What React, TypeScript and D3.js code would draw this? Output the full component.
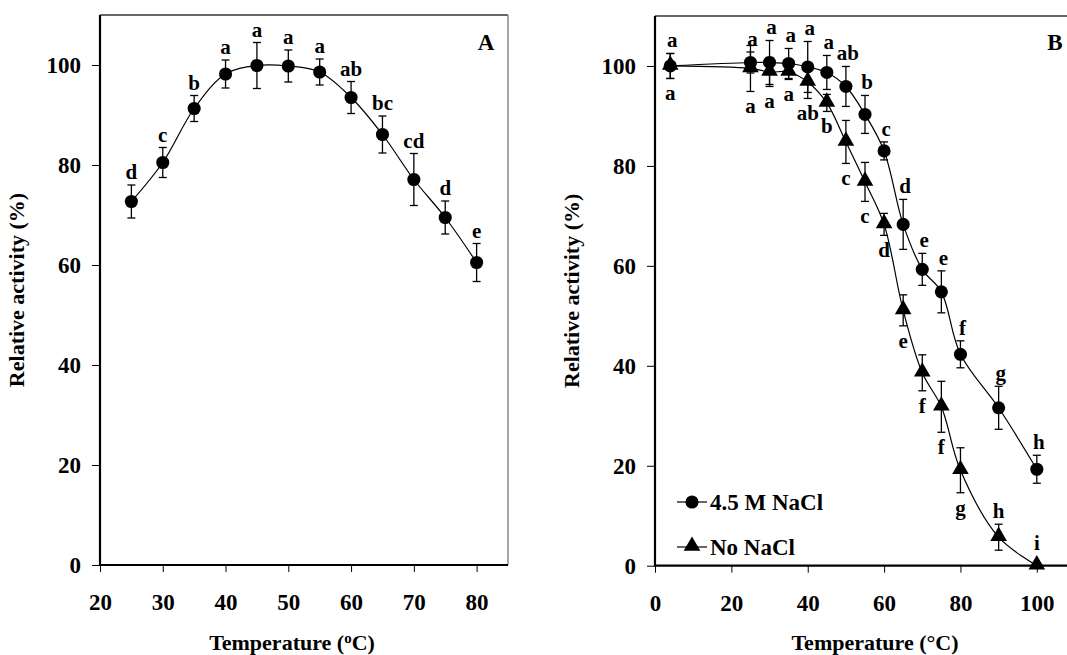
import React, { useEffect, useRef } from "react";
import * as d3 from "d3";

// panel A: activity vs temperature
const tempA = [25, 30, 35, 40, 45, 50, 55, 60, 65, 70, 75, 80];
const activityA = [72.7, 80.5, 91.3, 98.2, 99.9, 99.8, 98.6, 93.5, 86.1, 77.1, 69.5, 60.5];
const errorA = [3.3, 3.0, 2.6, 2.8, 4.6, 3.2, 2.6, 3.2, 3.7, 5.2, 3.3, 3.8];
const lettersA = ["d", "c", "b", "a", "a", "a", "a", "ab", "bc", "cd", "d", "e"];

// panel B: thermostability with / without salt
const tempB = [4, 25, 30, 35, 40, 45, 50, 55, 60, 65, 70, 75, 80, 90, 100];
const saltB = [100, 100.7, 100.7, 100.5, 99.8, 98.7, 95.9, 90.3, 83, 68.3, 59.3, 54.8, 42.3, 31.6, 19.3];
const saltErrB = [2.5, 2.1, 4.4, 3.0, 5.1, 3.4, 4.0, 3.8, 1.8, 5.0, 3.2, 4.2, 2.7, 4.3, 2.8];
const saltLettersB = ["a", "a", "a", "a", "a", "a", "ab", "b", "c", "d", "e", "e", "f", "g", "h"];
const noSaltB = [100, 99.5, 98.8, 98.8, 96.8, 92.6, 84.8, 76.8, 68.3, 51.1, 38.6, 31.8, 19.1, 5.7, 0];
const noSaltErrB = [2.5, 4.6, 2.9, 1.5, 3.3, 1.7, 4.3, 3.9, 2.2, 3.1, 3.6, 5.1, 4.5, 2.6, 0];
const noSaltLettersB = ["a", "a", "a", "a", "ab", "b", "c", "c", "d", "e", "f", "f", "g", "h", "i"];

const yTicks = [0, 20, 40, 60, 80, 100];
const xTicksA = [20, 30, 40, 50, 60, 70, 80];
const xTicksB = [0, 20, 40, 60, 80, 100];
const legendNames = ["4.5 M NaCl", "No NaCl"];

const FONT = "Liberation Serif, Times New Roman, Times, serif";
const W = 1067, H = 655;

type Pt = { x: number; y: number; e: number; l: string };

function zip(xs: number[], ys: number[], es: number[], ls: string[]): Pt[] {
	return xs.map((x, i) => ({ x, y: ys[i], e: es[i], l: ls[i] }));
}

function bold(sel: any, size: number) {
	return sel.attr("font-family", FONT).style("font-family", FONT).attr("font-weight", "bold").attr("font-size", size).attr("fill", "#000");
}

function drawPanel(svg: any, opts: any) {
	const { left, right, top, bottom, xDomain, xTicks, xTitle, yTitleX, letter, letterX, rightBorder } = opts;

	const x = d3.scaleLinear().domain(xDomain).range([left, right]);
	const y = d3.scaleLinear().domain([0, 110]).range([bottom, top]);

	const g = svg.append("g");

	// frame
	g.append("line").attr("x1", left).attr("x2", right).attr("y1", top).attr("y2", top)
		.attr("stroke", "#333").attr("stroke-width", 1.5);
	if (rightBorder)
		g.append("line").attr("x1", right).attr("x2", right).attr("y1", top).attr("y2", bottom)
			.attr("stroke", "#888").attr("stroke-width", 1.5);

	// axes
	const ya = g.append("g").attr("transform", "translate(" + left + ",0)")
		.call(d3.axisLeft(y).tickValues(yTicks).tickSize(8).tickSizeOuter(0).tickPadding(11));
	ya.select(".domain").remove();
	bold(ya.selectAll("text"), 23);
	ya.selectAll("line").attr("stroke", "#000");

	const xa = g.append("g").attr("transform", "translate(0," + bottom + ")")
		.call(d3.axisBottom(x).tickValues(xTicks).tickSize(7).tickSizeOuter(0).tickPadding(22));
	xa.select(".domain").remove();
	bold(xa.selectAll("text"), 23);
	xa.selectAll("line").attr("stroke", "#000");

	g.append("line").attr("x1", left).attr("x2", left).attr("y1", top).attr("y2", bottom + 1)
		.attr("stroke", "#000").attr("stroke-width", 2.2);
	g.append("line").attr("x1", left).attr("x2", right).attr("y1", bottom).attr("y2", bottom)
		.attr("stroke", "#000").attr("stroke-width", 2.2);

	// titles
	bold(g.append("text").attr("x", (left + Math.min(right, W)) / 2 + opts.xTitleShift).attr("y", 650)
		.attr("text-anchor", "middle"), 22).html(xTitle);
	bold(g.append("text").attr("transform", "translate(" + yTitleX + "," + (top + bottom) / 2 + ") rotate(-90)")
		.attr("text-anchor", "middle"), 22).text("Relative activity (%)");
	bold(g.append("text").attr("x", letterX).attr("y", 50).attr("text-anchor", "middle"), 23).text(letter);

	return { g, x, y };
}

function drawSeries(g: any, x: any, y: any, pts: Pt[], shape: string, below: boolean, dx: number) {
	const line = d3.line<Pt>().x(d => x(d.x)).y(d => y(d.y)).curve(d3.curveCatmullRom.alpha(0.5));
	g.append("path").datum(pts).attr("d", line).attr("fill", "none").attr("stroke", "#000").attr("stroke-width", 1.2);

	const bars = g.append("g");
	pts.filter(d => d.e > 0).forEach(d => {
		const cx = x(d.x), y1 = y(d.y + d.e), y2 = y(d.y - d.e);
		bars.append("line").attr("x1", cx).attr("x2", cx).attr("y1", y1).attr("y2", y2).attr("stroke", "#000").attr("stroke-width", 1.3);
		[y1, y2].forEach(yy => bars.append("line").attr("x1", cx - 4).attr("x2", cx + 4).attr("y1", yy).attr("y2", yy)
			.attr("stroke", "#000").attr("stroke-width", 1.3));
	});

	const sym = d3.symbol().type(shape === "circle" ? d3.symbolCircle : d3.symbolTriangle).size(shape === "circle" ? 135 : 120);
	g.append("g").selectAll("path").data(pts).enter().append("path")
		.attr("transform", (d: Pt) => "translate(" + x(d.x) + "," + (y(d.y) - (shape === "circle" ? 0 : 1)) + ")")
		.attr("d", sym).attr("fill", "#000");

	const labels = g.append("g").selectAll("text").data(pts).enter().append("text")
		.attr("x", (d: Pt) => x(d.x) + dx)
		.attr("y", (d: Pt) => {
			if (below && d.y > 10) return y(d.y - d.e) + 22;
			return y(d.y + d.e) - (d.e === 0 ? 10 : 0) - 6;
		})
		.attr("text-anchor", "middle");
	bold(labels, 21).text((d: Pt) => d.l);
}

export default function App() {
	const ref = useRef<SVGSVGElement>(null);

	useEffect(() => {
		const svg = d3.select(ref.current);
		svg.selectAll("*").remove();

		// panel A
		const a = drawPanel(svg, {
			left: 100, right: 508, top: 15, bottom: 565, xDomain: [20, 85], xTicks: xTicksA,
			xTitle: "Temperature (<tspan font-size='15' dy='-7'>o</tspan><tspan dy='7'>C)</tspan>", xTitleShift: -12,
			yTitleX: 24, letter: "A", letterX: 486, rightBorder: true,
		});
		drawSeries(a.g, a.x, a.y, zip(tempA, activityA, errorA, lettersA), "circle", false, 0);

		// panel B
		const b = drawPanel(svg, {
			left: 655, right: 1075, top: 16, bottom: 565.7, xDomain: [0, 110], xTicks: xTicksB,
			xTitle: "Temperature (°C)", xTitleShift: 14,
			yTitleX: 579, letter: "B", letterX: 1055, rightBorder: false,
		});
		drawSeries(b.g, b.x, b.y, zip(tempB, noSaltB, noSaltErrB, noSaltLettersB), "triangle", true, 0);
		drawSeries(b.g, b.x, b.y, zip(tempB, saltB, saltErrB, saltLettersB), "circle", false, 2);

		// legend
		const lg = b.g.append("g");
		legendNames.forEach((name, i) => {
			const ly = 502 + i * 45;
			lg.append("line").attr("x1", 677).attr("x2", 707).attr("y1", ly).attr("y2", ly).attr("stroke", "#000").attr("stroke-width", 1.2);
			lg.append("path").attr("transform", "translate(692," + (ly - (i ? 1 : 0)) + ")")
				.attr("d", d3.symbol().type(i ? d3.symbolTriangle : d3.symbolCircle).size(i ? 120 : 135)).attr("fill", "#000");
			bold(lg.append("text").attr("x", 710).attr("y", ly + 8), 23).text(name);
		});
	}, []);

	return (
		<div style={{ position: "absolute", left: 0, top: 0 }}>
			<svg ref={ref} width={W} height={H} style={{ display: "block", background: "#fff" }}></svg>
		</div>
	);
}
